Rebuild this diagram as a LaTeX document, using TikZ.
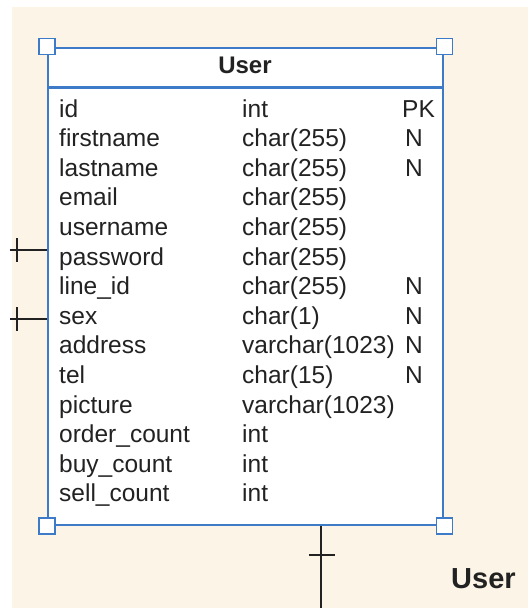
\documentclass[tikz,border=0pt]{standalone}
\usepackage{fontspec}
\setmainfont{Liberation Sans}
\definecolor{cream}{HTML}{FCF5E7}
\definecolor{erblue}{HTML}{3D7BC8}
\definecolor{ink}{HTML}{222222}
\begin{document}
\begin{tikzpicture}[x=1pt,y=-1pt,
  cell/.style={anchor=base west,inner sep=0pt,font=\fontsize{24.5}{29}\selectfont,text=ink},
  handle/.style={draw=erblue,line width=1.6pt,fill=white,minimum size=16pt,inner sep=0pt},
  link/.style={draw=ink,line width=1.1pt}]
\useasboundingbox (0,0) rectangle (528,608);
\fill[white] (0,0) rectangle (528,608);
\fill[cream] (12,7) rectangle (528,608);
% table box
\node[draw=erblue,line width=2.4pt,fill=white,minimum width=395pt,minimum height=477pt,inner sep=0pt,anchor=north west] (tbl) at (47,46.5) {};
\coordinate (divL) at (47,87.5);
\coordinate (divR) at (442,87.5);
\draw[erblue,line width=2.4pt] (divL) -- (divR);
\node[anchor=base,inner sep=0pt,font=\fontsize{24}{29}\selectfont\bfseries,text=ink] (title) at (245,73) {User};
% rows
\foreach \i/\n/\t/\f/\fx in {0/id/int/PK/402,1/firstname/char(255)/N/405,2/lastname/char(255)/N/405,3/email/char(255)//405,4/username/char(255)//405,5/password/char(255)//405,6/line\_id/char(255)/N/405,7/sex/char(1)/N/405,8/address/varchar(1023)/N/405,9/tel/char(15)/N/405,10/picture/varchar(1023)//405,11/order\_count/int//405,12/buy\_count/int//405,13/sell\_count/int//405}{
  \node[cell] (n\i) at (59,117+29.6*\i) {\n};
  \node[cell] (t\i) at (242,117+29.6*\i) {\t};
  \node[cell] (f\i) at (\fx,117+29.6*\i) {\f};
}
% corner handles
\node[handle] (h1) at (tbl.north west) {};
\node[handle] (h2) at (tbl.north east) {};
\node[handle] (h3) at (tbl.south west) {};
\node[handle] (h4) at (tbl.south east) {};
% connectors
\coordinate (la) at (10,250);
\coordinate (lb) at (10,319);
\draw[link] (la) -- (la -| tbl.west);
\draw[link] (17,238) -- (17,262);
\draw[link] (lb) -- (lb -| tbl.west);
\draw[link] (17,307) -- (17,331);
\coordinate (bot) at (321,608);
\draw[link] (bot |- tbl.south) -- (bot);
\draw[link] (309,555) -- (335,555);
\node[anchor=base west,inner sep=0pt,font=\fontsize{29}{34}\selectfont\bfseries,text=ink] (lbl) at (451,588) {User};
\end{tikzpicture}
\end{document}
